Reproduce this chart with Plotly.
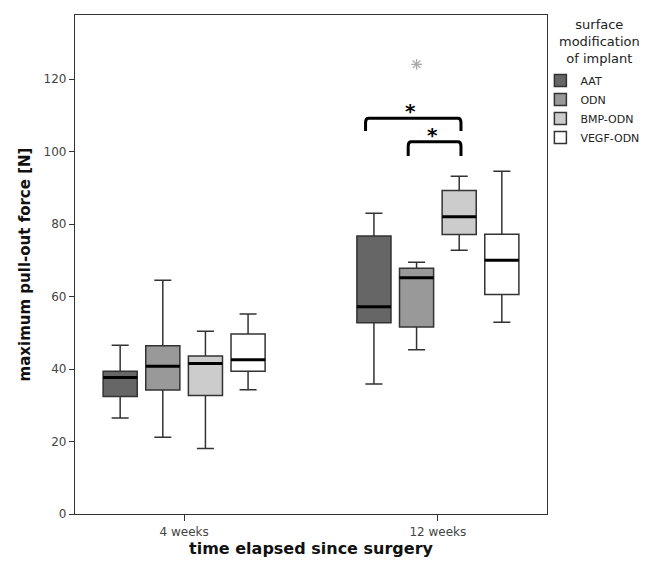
import plotly.graph_objects as go

# ---- data ----
categories = ["4 weeks", "12 weeks"]
groups = ["AAT", "ODN", "BMP-ODN", "VEGF-ODN"]
colors = ["#666666", "#999999", "#cccccc", "#ffffff"]

lower = {"AAT": [26.5, 35.9], "ODN": [21.2, 45.3], "BMP-ODN": [18.1, 72.8], "VEGF-ODN": [34.3, 52.9]}
q1 = {"AAT": [32.4, 52.8], "ODN": [34.2, 51.6], "BMP-ODN": [32.7, 77.1], "VEGF-ODN": [39.4, 60.6]}
median = {"AAT": [37.7, 57.2], "ODN": [40.8, 65.2], "BMP-ODN": [41.5, 82.0], "VEGF-ODN": [42.6, 70.0]}
q3 = {"AAT": [39.4, 76.7], "ODN": [46.4, 67.8], "BMP-ODN": [43.6, 89.3], "VEGF-ODN": [49.7, 77.2]}
upper = {"AAT": [46.6, 83.0], "ODN": [64.5, 69.5], "BMP-ODN": [50.4, 93.2], "VEGF-ODN": [55.2, 94.6]}

# extreme outlier (group, category, value)
outlier_group = "ODN"
outlier_cat = "12 weeks"
outlier_value = 124.1

# significance brackets: (group a, group b, top level, leg bottom)
brackets = [("AAT", "BMP-ODN", 109.2, 105.7), ("ODN", "BMP-ODN", 102.7, 98.8)]

y_ticks = [0, 20, 40, 60, 80, 100, 120]
legend_title = "surface<br>modification<br>of implant"

# ---- layout parameters ----
boxgap = 0.328
boxgroupgap = 0.2
slot = (1 - boxgap) / len(groups)
boxw = slot * (1 - boxgroupgap)
FONT = "DejaVu Sans"


def pos(group, cat):
    return categories.index(cat) + (groups.index(group) - (len(groups) - 1) / 2) * slot


fig = go.Figure()
for g, c in zip(groups, colors):
    fig.add_trace(go.Box(
        name=g, x=categories, q1=q1[g], median=median[g], q3=q3[g],
        lowerfence=lower[g], upperfence=upper[g],
        fillcolor=c, line=dict(color="#333333", width=1.5),
        whiskerwidth=0.5, boxpoints=False, hoverinfo="skip",
        offsetgroup=g,
    ))

# thick median lines
shapes = []
for g in groups:
    for ci, cat in enumerate(categories):
        xc = pos(g, cat)
        shapes.append(dict(type="line", xref="x", yref="y",
                           x0=xc - boxw / 2, x1=xc + boxw / 2,
                           y0=median[g][ci], y1=median[g][ci],
                           line=dict(color="black", width=3)))

# outlier
fig.add_trace(go.Scatter(
    x=[pos(outlier_group, outlier_cat)], y=[outlier_value], mode="markers",
    marker=dict(symbol="asterisk-open", size=9, color="#aaaaaa",
                line=dict(color="#aaaaaa", width=1.3)),
    showlegend=False, hoverinfo="skip", xaxis="x2",
))

# brackets
annotations = []
nudge = 0.033
for a, b, top, bot in brackets:
    xa = pos(a, "12 weeks") - nudge
    xb = pos(b, "12 weeks") + 0.007
    r = 0.012
    rv = 1.2
    path = (f"M {xa},{bot} L {xa},{top - rv} Q {xa},{top} {xa + r},{top} "
            f"L {xb - r},{top} Q {xb},{top} {xb},{top - rv} L {xb},{bot}")
    shapes.append(dict(type="path", xref="x", yref="y", path=path,
                       line=dict(color="black", width=3)))
    annotations.append(dict(x=(xa + xb) / 2 - 0.01, y=top, xref="x", yref="y",
                            text="<b>*</b>", showarrow=False, yanchor="bottom",
                            yshift=-7, font=dict(size=20, color="black", family=FONT)))

# legend title (centered lines)
annotations.append(dict(x=1.112, y=1.0, xref="paper", yref="paper",
                        xanchor="center", yanchor="top", align="center",
                        text=legend_title, showarrow=False,
                        font=dict(size=13, color="#222222", family=FONT)))

fig.update_layout(
    width=648, height=556,
    margin=dict(l=67, r=109, t=7, b=50, autoexpand=False),
    paper_bgcolor="white", plot_bgcolor="white",
    boxmode="group", boxgap=boxgap, boxgroupgap=boxgroupgap,
    font=dict(family=FONT, color="#222222"),
    shapes=shapes, annotations=annotations,
    legend=dict(
        x=0.986, y=0.898, xanchor="left", yanchor="top",
        bgcolor="rgba(0,0,0,0)",
        font=dict(size=11, color="#222222", family=FONT),
        tracegroupgap=0, itemwidth=30,
    ),
    xaxis=dict(
        type="category", categoryorder="array", categoryarray=categories,
        range=[-0.43, 1.43], showline=True, linecolor="#333333", linewidth=1.3,
        mirror=True, ticks="outside", ticklen=6, tickcolor="#333333",
        tickfont=dict(size=12, color="#444444"), showgrid=False,
        title=dict(text="<b>time elapsed since surgery</b>", font=dict(size=16, color="#111111"), standoff=2),
    ),
    xaxis2=dict(overlaying="x", range=[-0.43, 1.43], visible=False),
    yaxis=dict(
        range=[0, 137.7], tickvals=y_ticks, showline=True, linecolor="#333333", linewidth=1.3,
        mirror=True, ticks="outside", ticklen=5, tickcolor="#333333",
        tickfont=dict(size=12, color="#444444"), showgrid=False, zeroline=False,
        title=dict(text="<b>maximum pull-out force [N]</b>", font=dict(size=15, color="#111111"), standoff=9),
    ),
)

fig.write_html("out.html")
